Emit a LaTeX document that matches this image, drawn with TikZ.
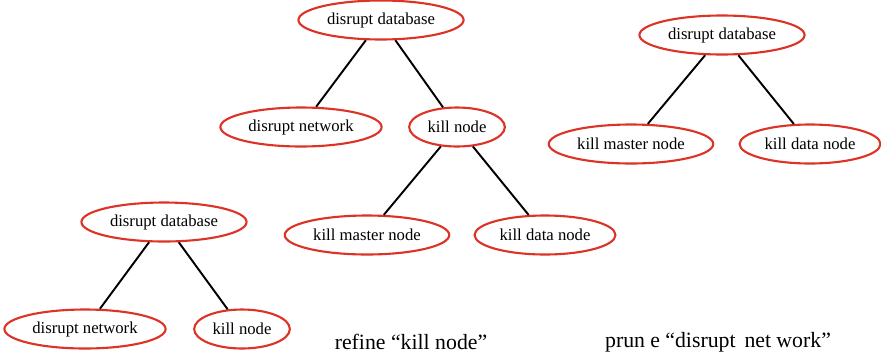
\documentclass[tikz,border=0pt]{standalone}
\usepackage{fontspec}
\setmainfont{Liberation Serif}
\usepackage{tikz}
\usetikzlibrary{shapes.geometric}
\definecolor{goalred}{RGB}{221,51,38}

\begin{document}
\begin{tikzpicture}[x=0.02cm,y=-0.02cm,
  goal/.style={ellipse,draw=goalred,line width=1.2pt,inner xsep=2.5pt,inner ysep=0pt,minimum height=0.78cm,font=\fontsize{9.5}{11}\selectfont},
  link/.style={line width=1.1pt}]
\useasboundingbox (0,0) rectangle (881,359);
% refined tree
\node[goal] (db1) at (381,20) {disrupt database};
\node[goal] (net1) at (301,127) {disrupt network};
\node[goal] (kill1) at (457,127) {kill node};
\node[goal] (km1) at (367,235) {kill master node};
\node[goal] (kd1) at (545,235) {kill data node};
% pruned tree
\node[goal] (db2) at (722,35) {disrupt database};
\node[goal] (km2) at (631,144) {kill master node};
\node[goal] (kd2) at (810,144) {kill data node};
% initial tree
\node[goal] (db0) at (164,222) {disrupt database};
\node[goal] (net0) at (85,329) {disrupt network};
\node[goal] (kill0) at (242,329) {kill node};
% captions
\node[font=\fontsize{12.4}{14}\selectfont] (refine) at (411,342) {refine “kill node”};
\node[font=\fontsize{12.4}{14}\selectfont] (prune) at (718,342) {prun\kern3pt e “disrupt\kern2pt\ net\kern3pt work”};
\draw [link] (db1) edge (net1);
\draw [link] (db1) edge (kill1);
\draw [link] (kill1) edge (km1);
\draw [link] (kill1) edge (kd1);
\draw [link] (db2) edge (km2);
\draw [link] (db2) edge (kd2);
\draw [link] (db0) edge (net0);
\draw [link] (db0) edge (kill0);
\end{tikzpicture}
\end{document}
